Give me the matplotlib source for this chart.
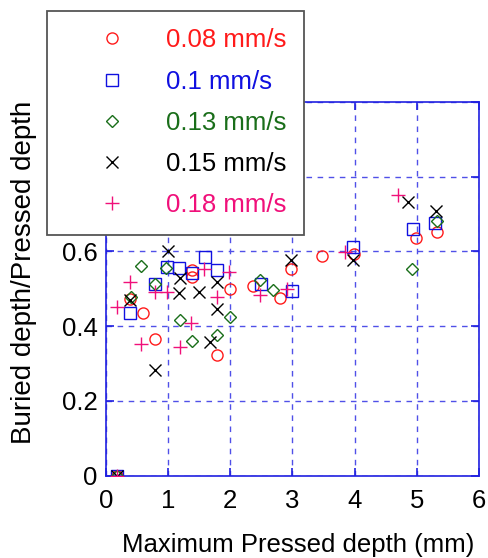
import matplotlib
matplotlib.use("Agg")
import matplotlib.pyplot as plt

# ===============================
# Data
# ===============================
LABELS = ["0.08 mm/s", "0.1 mm/s", "0.13 mm/s", "0.15 mm/s", "0.18 mm/s"]

x_008 = [0.18, 0.39, 0.59, 0.79, 1.39, 1.39, 1.79, 2.00, 2.37, 2.80, 2.98, 3.48, 3.99, 4.98, 5.33]
y_008 = [0.0, 0.473, 0.434, 0.365, 0.550, 0.532, 0.322, 0.499, 0.507, 0.474, 0.553, 0.587, 0.592, 0.636, 0.651]

x_010 = [0.18, 0.38, 0.79, 0.98, 1.18, 1.38, 1.59, 1.79, 2.49, 2.99, 3.98, 4.94, 5.29]
y_010 = [0.0, 0.435, 0.512, 0.557, 0.556, 0.543, 0.585, 0.550, 0.513, 0.495, 0.611, 0.660, 0.677]

x_013 = [0.18, 0.40, 0.57, 0.79, 0.97, 1.19, 1.39, 1.78, 1.99, 2.48, 2.69, 4.93, 5.33]
y_013 = [0.0, 0.478, 0.562, 0.512, 0.556, 0.416, 0.361, 0.375, 0.424, 0.523, 0.497, 0.553, 0.681]

x_015 = [0.18, 0.39, 0.79, 0.99, 1.19, 1.18, 1.49, 1.68, 1.78, 1.78, 2.97, 3.97, 4.86, 5.31]
y_015 = [0.0, 0.471, 0.283, 0.600, 0.530, 0.489, 0.492, 0.357, 0.517, 0.445, 0.578, 0.576, 0.732, 0.708]

x_018 = [0.18, 0.17, 0.38, 0.57, 0.79, 0.98, 1.19, 1.37, 1.58, 1.78, 1.98, 2.48, 2.91, 3.84, 4.70]
y_018 = [0.0, 0.452, 0.519, 0.352, 0.492, 0.490, 0.343, 0.408, 0.554, 0.479, 0.544, 0.484, 0.498, 0.598, 0.750]

X_TICKS = [0, 1, 2, 3, 4, 5, 6]
Y_TICKS = [0, 0.2, 0.4, 0.6, 0.8, 1.0]
Y_TICKLABELS = ["0", "0.2", "0.4", "0.6", "0.8", "1"]

# ===============================
# Style
# ===============================
COLORS = ["#ff1a1a", "#1010e0", "#1a6e1a", "#000000", "#f0107a"]
MARKERS = ["o", "s", "D", "x", "+"]
SIZES = [8, 8, 6.3, 9, 10]
AXIS_BLUE = "#2020e0"
GRID_BLUE = "#5050e8"
FS = 18.5

plt.rcParams["font.family"] = ["Liberation Sans", "DejaVu Sans"]

fig = plt.figure(figsize=(4.89, 5.58), dpi=100)
ax = fig.add_axes([106 / 489, 1 - 475.5 / 558, 373 / 489, 373.5 / 558])

series = [(x_008, y_008), (x_010, y_010), (x_013, y_013), (x_015, y_015), (x_018, y_018)]
handles = []
for (xs, ys), lab, c, m, s in zip(series, LABELS, COLORS, MARKERS, SIZES):
    h, = ax.plot(xs, ys, linestyle="none", marker=m, markersize=s,
                 markerfacecolor="none", markeredgecolor=c, markeredgewidth=1.0,
                 label=lab, zorder=3)
    handles.append(h)

ax.set_xlim(0, 6)
ax.set_ylim(0, 1)
ax.set_xticks(X_TICKS)
ax.set_yticks(Y_TICKS)
ax.set_yticklabels(Y_TICKLABELS)

# Grid and frame
ax.grid(True, color=GRID_BLUE, linestyle=(0, (4, 4)), linewidth=1.0, zorder=1)
for sp in ax.spines.values():
    sp.set_color(AXIS_BLUE)
    sp.set_linewidth(1.2)
ax.tick_params(axis="both", direction="in", length=6, width=1.2, color=AXIS_BLUE,
               top=True, right=True, labelsize=FS, labelcolor="black")
ax.tick_params(axis="x", pad=10)
ax.tick_params(axis="y", pad=6)

ax.set_xlabel("Maximum Pressed depth (mm)", fontsize=FS)
ax.set_ylabel("Buried depth/Pressed depth", fontsize=20)
ax.xaxis.set_label_coords(0.515, -0.155)
ax.yaxis.set_label_coords(-0.185, 0.545)

# Legend
leg = fig.legend(handles=handles, loc="upper left",
                 bbox_to_anchor=(46.7 / 489, 1 - 11 / 558),
                 bbox_transform=fig.transFigure, borderaxespad=0,
                 fontsize=FS, frameon=True, fancybox=False, framealpha=1,
                 edgecolor="#555555", facecolor="white",
                 handlelength=3.72, handletextpad=0.24, borderpad=0.68,
                 labelspacing=0.67)
leg.get_frame().set_linewidth(1.3)
for txt, c in zip(leg.get_texts(), COLORS):
    txt.set_color(c)

fig.savefig("out.png", dpi=100)
